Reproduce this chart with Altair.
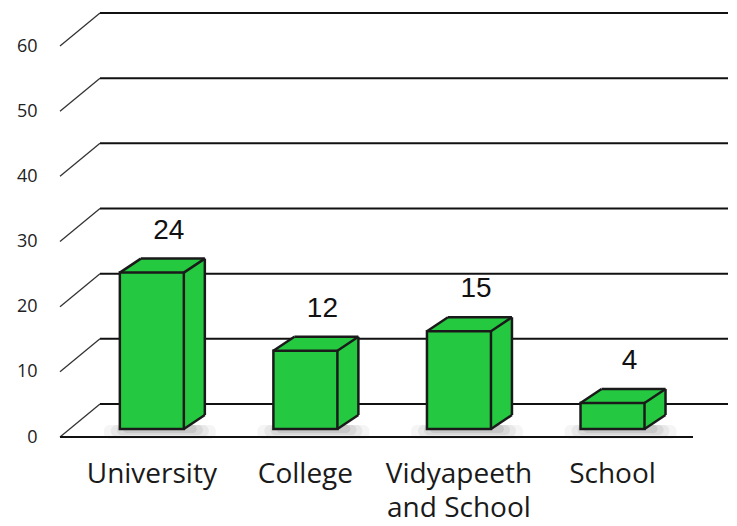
import altair as alt
import pandas as pd

categories = ["University", "College", "Vidyapeeth and School", "School"]
values = [24, 12, 15, 4]
tick_values = [0, 10, 20, 30, 40, 50, 60]

df = pd.DataFrame({"cat": categories, "value": values})
ticks = pd.DataFrame({"t": tick_values})

GREEN = "#25c941"
HALF = 32      # half bar width (px)
DX, DY = 21, -14  # depth offset of bars
LIFT = -8      # bars stand slightly behind the front floor line
GDX, GDY = 40, -33  # depth of the grid planes
W, H = 668, 391

xscale = alt.Scale(domain=categories, paddingInner=0, paddingOuter=0.175, align=0.28)
yscale = alt.Scale(domain=[0, 60], nice=False, zero=True)

x_enc = alt.X("cat:N", scale=xscale, sort=categories,
              axis=alt.Axis(title=None, labelAngle=0, ticks=False, domain=False, grid=False,
                            labelPadding=23, labelFontSize=28, labelFont="Open Sans",
                            labelColor="#1a1a1a", labelBaseline="top", labelLineHeight=34,
                            labelLimit=300,
                            labelExpr="indexof(datum.label, ' and ') > 0 ? [slice(datum.label, 0, indexof(datum.label, ' and ')), slice(datum.label, indexof(datum.label, ' and ') + 1)] : datum.label"))
y_axis = alt.Axis(title=None, values=tick_values, ticks=False, domain=False, grid=False,
                  labelPadding=23, labelFontSize=18, labelFont="Open Sans", labelColor="#222")
y_enc = alt.Y("value:Q", scale=yscale, axis=y_axis)
y_tick = alt.Y("t:Q", scale=yscale, axis=y_axis)

base = alt.Chart(df)
gbase = alt.Chart(ticks)

# grid planes
grid_back = gbase.mark_rule(color="#111", strokeWidth=2, yOffset=GDY).encode(
    y=y_tick, x=alt.value(GDX), x2=alt.value(W))
grid_diag = gbase.mark_rule(color="#333", strokeWidth=1.3, y2Offset=GDY).encode(
    y=y_tick, y2="t:Q", x=alt.value(0), x2=alt.value(GDX))
floor_front = gbase.transform_filter("datum.t == 0").mark_rule(color="#111", strokeWidth=2).encode(
    y=y_tick, x=alt.value(0), x2=alt.value(633))

# soft shadows under bars
shadows = []
for i, (w, h, op) in enumerate([(112, 10, 0.05), (98, 8, 0.07), (86, 6, 0.09), (74, 4, 0.11)]):
    shadows.append(base.mark_bar(size=w, color="#444", opacity=op, cornerRadius=6,
                                 xOffset=8, yOffset=LIFT + h, y2Offset=LIFT - 4).encode(
        x=x_enc, y=alt.Y("z:Q", scale=yscale, axis=y_axis), y2="z:Q").transform_calculate(z="0"))

# extruded bar body (back to front)
N = 14
body = []
for k in range(N, 0, -1):
    ox = DX * k / N
    oy = DY * k / N
    body.append(base.mark_bar(size=2 * HALF, color=GREEN, xOffset=ox,
                              yOffset=LIFT + oy, y2Offset=LIFT + oy).encode(
        x=x_enc, y=y_enc, y2=alt.datum(0)))

front = base.mark_bar(size=2 * HALF, color=GREEN, stroke="#1a1a1a", strokeWidth=2.5,
                      yOffset=LIFT, y2Offset=LIFT).encode(x=x_enc, y=y_enc, y2=alt.datum(0))

edge_style = dict(color="#1a1a1a", strokeWidth=2.5)
e_tl = base.mark_rule(xOffset=-HALF, x2Offset=-HALF + DX, yOffset=LIFT, y2Offset=LIFT + DY, **edge_style).encode(
    x=x_enc, x2="cat:N", y=y_enc, y2="value:Q")
e_tr = base.mark_rule(xOffset=HALF, x2Offset=HALF + DX, yOffset=LIFT, y2Offset=LIFT + DY, **edge_style).encode(
    x=x_enc, x2="cat:N", y=y_enc, y2="value:Q")
e_br = base.mark_rule(xOffset=HALF, x2Offset=HALF + DX, yOffset=LIFT, y2Offset=LIFT + DY, **edge_style).encode(
    x=x_enc, x2="cat:N", y=alt.datum(0, scale=yscale, axis=y_axis), y2=alt.datum(0))
e_bt = base.mark_rule(xOffset=-HALF + DX, x2Offset=HALF + DX, yOffset=LIFT + DY, y2Offset=LIFT + DY, **edge_style).encode(
    x=x_enc, x2="cat:N", y=y_enc, y2="value:Q")
e_br2 = base.mark_rule(xOffset=HALF + DX, x2Offset=HALF + DX, yOffset=LIFT + DY, y2Offset=LIFT + DY, **edge_style).encode(
    x=x_enc, x2="cat:N", y=y_enc, y2=alt.datum(0))

labels = base.mark_text(font="Liberation Sans", fontSize=28, color="#111", baseline="alphabetic",
                        dx=17, dy=-42).encode(x=x_enc, y=y_enc, text="value:Q")

chart = alt.layer(
    grid_diag, grid_back, floor_front, *shadows, *body, front,
    e_tl, e_tr, e_br, e_bt, e_br2, labels
).properties(
    width=W, height=H, autosize="none", background="white",
    padding={"left": 52, "top": 38, "right": 0, "bottom": 88}
).configure_view(strokeOpacity=0, strokeWidth=0).configure_axis(
    grid=False, domain=False, ticks=False)

chart.save("out.html", embed_options={"renderer": "svg", "actions": False})
